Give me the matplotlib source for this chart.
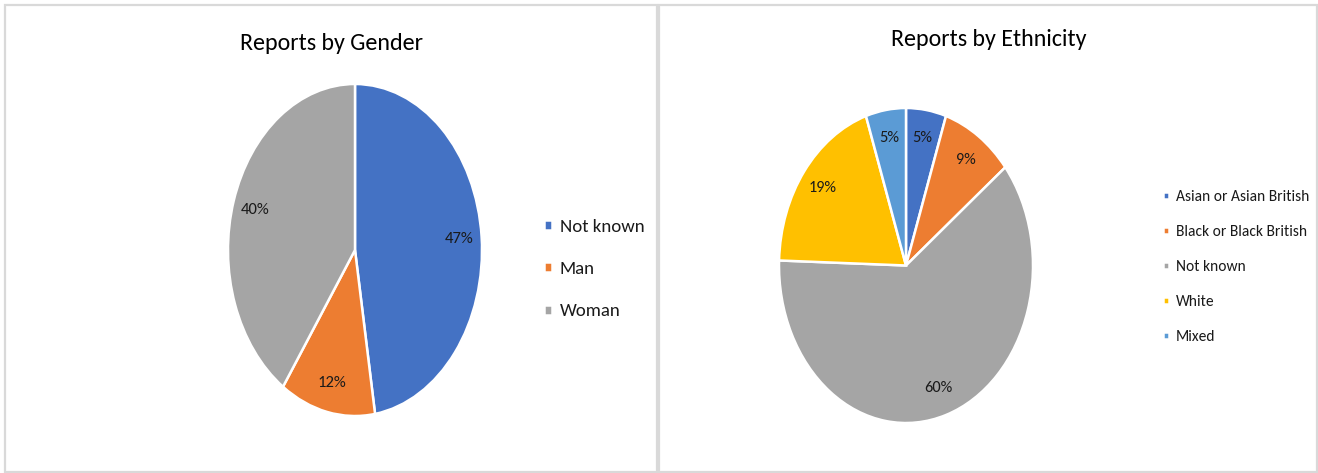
import matplotlib
matplotlib.use('Agg')
import matplotlib.pyplot as plt
from matplotlib.patches import Rectangle

plt.rcParams['font.family'] = ['Carlito', 'DejaVu Sans']

# gender breakdown
gender_labels = ['Not known', 'Man', 'Woman']
gender_pct = [47, 12, 40]
gender_colors = ['#4472C4', '#ED7D31', '#A5A5A5']

# ethnicity breakdown
eth_labels = ['Asian or Asian British', 'Black or Black British', 'Not known', 'White', 'Mixed']
eth_pct = [5, 9, 60, 19, 5]
eth_colors = ['#4472C4', '#ED7D31', '#A5A5A5', '#FFC000', '#5B9BD5']

W, H = 1318, 473
fig = plt.figure(figsize=(W / 100, H / 100), dpi=100)


def px_axes(x0, y0, x1, y1):
    # pixel box (top-left origin) -> figure axes
    return fig.add_axes([x0 / W, 1 - y1 / H, (x1 - x0) / W, (y1 - y0) / H])


def value_fmt(vals):
    tot = float(sum(vals))
    return lambda p: '%d%%' % round(p * tot / 100)


def draw_pie(box, vals, colors, size):
    ax = px_axes(*box)
    wedges, _, autotexts = ax.pie(vals, colors=colors, startangle=90, counterclock=False,
                                  autopct=value_fmt(vals), pctdistance=0.82,
                                  wedgeprops=dict(edgecolor='white', linewidth=1.8),
                                  textprops=dict(fontsize=size, color='#1a1a1a'))
    ax.set_aspect('auto')
    ax.set_xlim(-1, 1)
    ax.set_ylim(-1, 1)
    ax.axis('off')
    return wedges


# panel frames
for x0, x1 in [(5, 657), (659, 1317)]:
    fig.patches.append(Rectangle((x0 / W, 1 - 471.5 / H), (x1 - x0) / W, (471.5 - 5.5) / H,
                                 transform=fig.transFigure, fill=False,
                                 edgecolor='#D9D9D9', linewidth=1.6))

# left: gender
w1 = draw_pie((228, 84, 482, 416), gender_pct, gender_colors, 12)
fig.text(331 / W, 1 - 44 / H, 'Reports by Gender', ha='center', va='center',
         fontsize=17.3, color='#000000')
fig.legend(w1, gender_labels, loc='center left', bbox_to_anchor=(544 / W, 1 - 269 / H),
           frameon=False, fontsize=13.6, handlelength=0.43, handleheight=0.43,
           handletextpad=0.4, labelspacing=1.4, borderpad=0, borderaxespad=0,
           labelcolor='#1a1a1a')

# right: ethnicity
w2 = draw_pie((779, 108, 1033, 423), eth_pct, eth_colors, 11.8)
fig.text(989 / W, 1 - 40 / H, 'Reports by Ethnicity', ha='center', va='center',
         fontsize=17.3, color='#000000')
fig.legend(w2, eth_labels, loc='center left', bbox_to_anchor=(1163 / W, 1 - 267 / H),
           frameon=False, fontsize=11.2, handlelength=0.39, handleheight=0.39,
           handletextpad=0.45, labelspacing=1.35, borderpad=0, borderaxespad=0,
           labelcolor='#1a1a1a')

fig.savefig('out.png', dpi=100, facecolor='white')
